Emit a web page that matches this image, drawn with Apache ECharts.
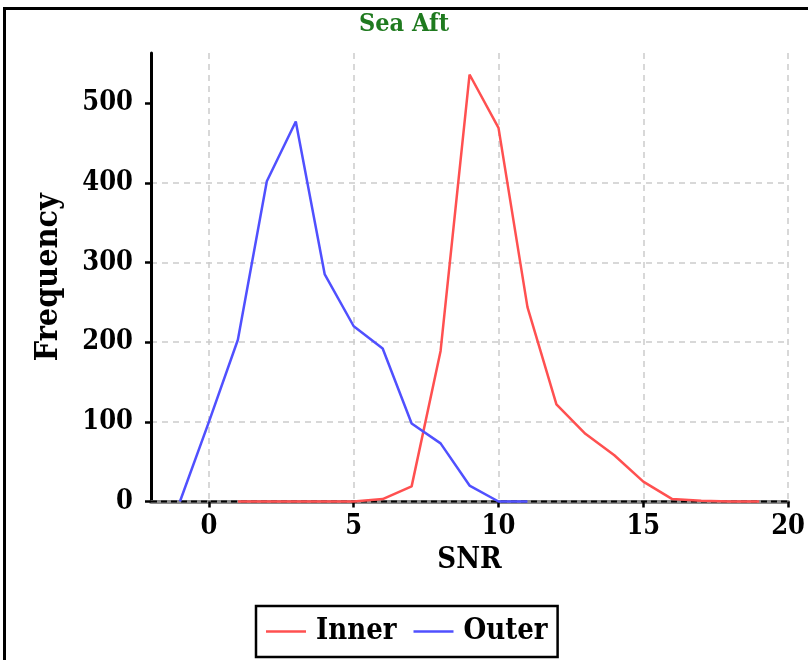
<!DOCTYPE html>
<html>
<head>
<meta charset="utf-8">
<script src="https://cdn.jsdelivr.net/npm/echarts@6/dist/echarts.min.js"></script>
<style>
  html, body { margin: 0; padding: 0; background: #fff; }
  #chart { width: 808px; height: 660px; }
</style>
</head>
<body>
<div id="chart"></div>
<script>
const titleText = 'Sea Aft';
const seriesNames = ['Inner', 'Outer'];
const innerSNR = [1, 2, 3, 4, 5, 6, 7, 8, 9, 10, 11, 12, 13, 14, 15, 16, 17, 18, 19];
const innerFreq = [0, 0, 0, 0, 0, 3, 19, 189, 536, 469, 244, 122, 85, 58, 25, 3, 1, 0, 0];
const outerSNR = [-1, 0, 1, 2, 3, 4, 5, 6, 7, 8, 9, 10, 11];
const outerFreq = [0, 100, 203, 402, 477, 285, 220, 192, 98, 73, 20, 0, 0];
const xTicks = [0, 5, 10, 15, 20];
const yTicks = [0, 100, 200, 300, 400, 500];
const xRange = [-2, 20];
const yRange = [0, 563];

const FONT = '"DejaVu Serif Condensed", "DejaVu Serif", serif';
const pairs = (xs, ys) => xs.map((x, i) => [x, ys[i]]);

const chart = echarts.init(document.getElementById('chart'), null, { renderer: 'canvas' });
chart.setOption({
  backgroundColor: '#fff',
  animation: false,
  graphic: [{
    type: 'rect',
    shape: { x: 4.5, y: 8.5, width: 900, height: 800 },
    style: { fill: 'none', stroke: '#000', lineWidth: 3 },
    silent: true, z: 100
  }],
  title: {
    text: titleText,
    left: 'center',
    top: 7,
    textStyle: { fontFamily: FONT, fontWeight: 'bold', fontSize: 25, color: '#1f7a1f' }
  },
  legend: {
    data: seriesNames,
    left: 256,
    top: 606,
    padding: [11, 10, 11, 10],
    borderColor: '#000',
    borderWidth: 2.5,
    icon: 'rect',
    itemWidth: 40,
    itemHeight: 2.5,
    itemGap: 17,
    textStyle: { fontFamily: FONT, fontWeight: 'bold', fontSize: 29, color: '#000', padding: [0, 0, 0, 5] }
  },
  grid: { left: 151, top: 53, width: 638, height: 448.5, containLabel: false },
  xAxis: {
    type: 'value',
    min: xRange[0], max: xRange[1],
    name: 'SNR',
    nameLocation: 'middle',
    nameGap: 44,
    nameTextStyle: { fontFamily: FONT, fontWeight: 'bold', fontSize: 29, color: '#000' },
    axisLine: { show: true, onZero: false, lineStyle: { color: '#8c8c8c', width: 4 } },
    axisTick: { show: true, customValues: xTicks, length: 6, lineStyle: { color: '#000', width: 2.5 } },
    axisLabel: { customValues: xTicks, margin: 12, fontFamily: FONT, fontWeight: 'bold', fontSize: 27, color: '#000' },
    splitLine: { show: true, lineStyle: { color: '#cccccc', type: [6, 5], width: 1.5 } }
  },
  yAxis: {
    type: 'value',
    min: yRange[0], max: yRange[1],
    name: 'Frequency',
    nameLocation: 'middle',
    nameGap: 86,
    nameTextStyle: { fontFamily: FONT, fontWeight: 'bold', fontSize: 32, color: '#000' },
    axisLine: { show: true, onZero: false, lineStyle: { color: '#000', width: 3 } },
    axisTick: { show: true, customValues: yTicks, length: 6, lineStyle: { color: '#000', width: 2.5 } },
    axisLabel: { customValues: yTicks, margin: 18, fontFamily: FONT, fontWeight: 'bold', fontSize: 27, color: '#000' },
    splitLine: { show: true, showMaxLine: false, lineStyle: { color: '#cccccc', type: [6, 5], width: 1.5 } }
  },
  series: [
    {
      name: 'zero',
      type: 'line',
      data: pairs(xRange, [0, 0]),
      symbol: 'none',
      silent: true,
      clip: false,
      z: 1,
      lineStyle: { color: '#000', width: 2, type: [6, 4] }
    },
    {
      name: 'Inner',
      type: 'line',
      data: pairs(innerSNR, innerFreq),
      symbol: 'none',
      clip: false,
      z: 3,
      color: '#ff5050',
      lineStyle: { color: '#ff5050', width: 2.5 }
    },
    {
      name: 'Outer',
      type: 'line',
      data: pairs(outerSNR, outerFreq),
      symbol: 'none',
      clip: false,
      z: 3,
      color: '#5050ff',
      lineStyle: { color: '#5050ff', width: 2.5 }
    }
  ]
});
</script>
</body>
</html>
